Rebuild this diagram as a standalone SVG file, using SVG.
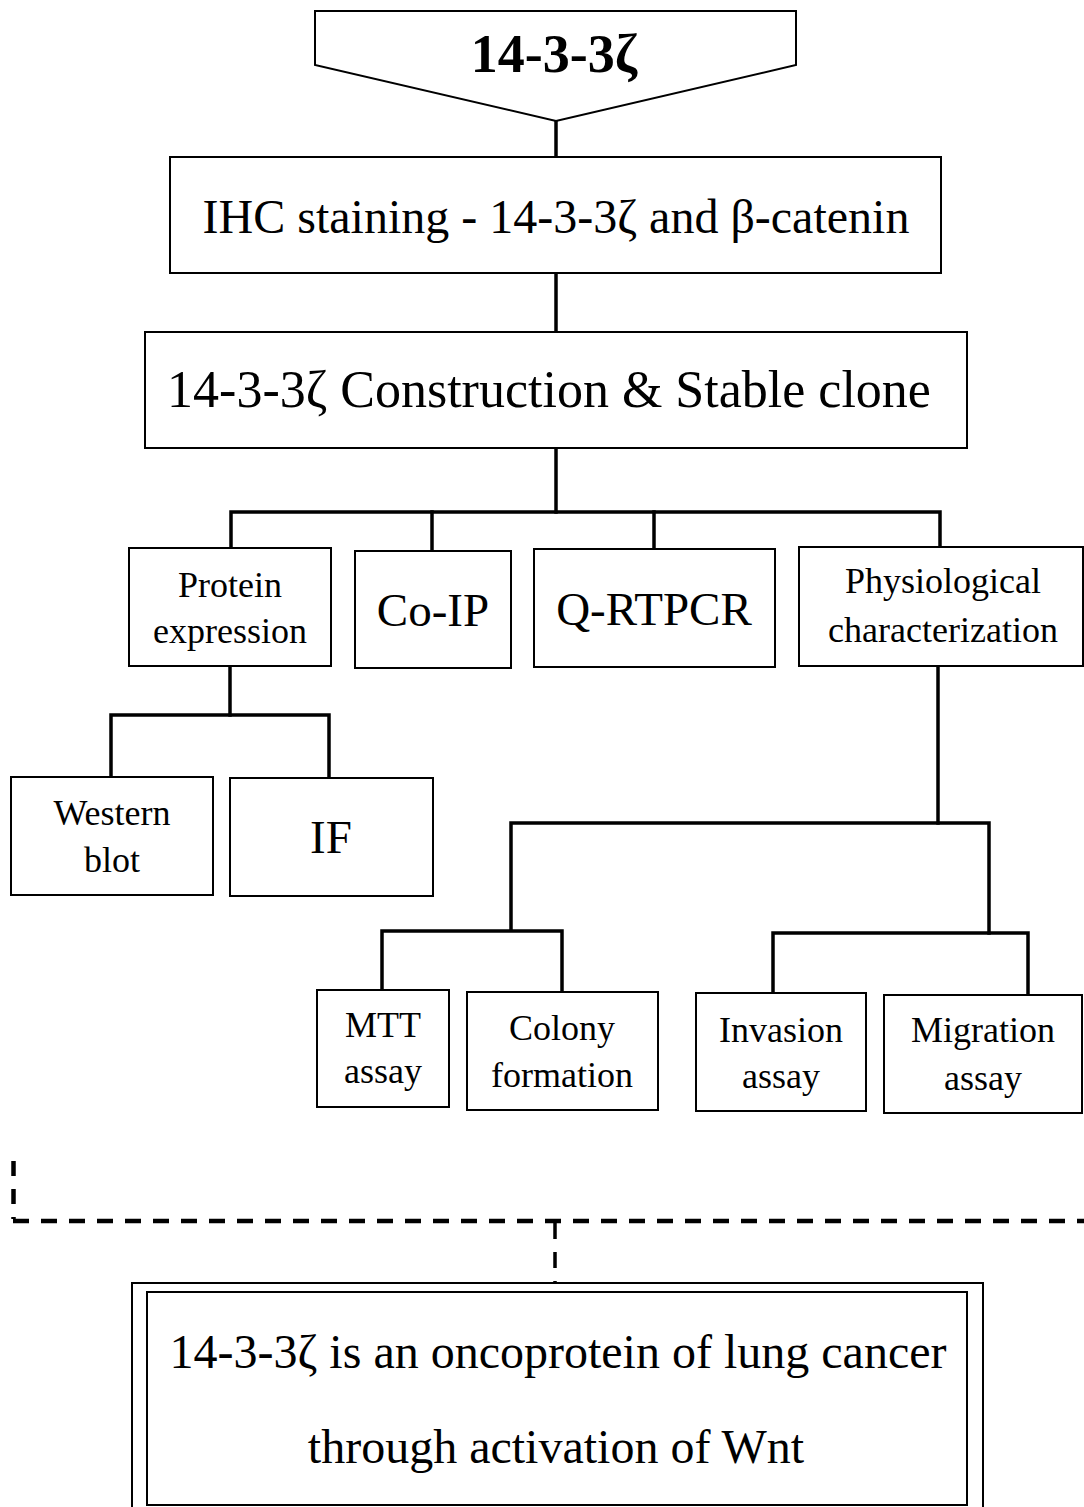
<svg xmlns="http://www.w3.org/2000/svg" width="1084" height="1507" viewBox="0 0 1084 1507">
<style>
.box{fill:#fff;stroke:#000;stroke-width:2}
.ln{fill:none;stroke:#000;stroke-width:3.5;stroke-linecap:square}
.dash{fill:none;stroke:#000;stroke-width:4.5}
text{font-family:"Liberation Serif","Times New Roman",serif;fill:#000;text-anchor:middle}
.t36{font-size:36px}
.t47{font-size:47px}
.t48{font-size:48px}
</style>
<rect width="1084" height="1507" fill="#fff"/>
<g id="connectors">
<path class="ln" d="M556,121 V157"/>
<path class="ln" d="M556,273 V332"/>
<path class="ln" d="M556,448 V512"/>
<path class="ln" d="M231,548 V512 H940 V547"/>
<path class="ln" d="M432,512 V550"/>
<path class="ln" d="M654,512 V549"/>
<path class="ln" d="M230,666 V715"/>
<path class="ln" d="M111,776 V715 H329 V777"/>
<path class="ln" d="M938,666 V823"/>
<path class="ln" d="M511,930 V823 H989 V933"/>
<path class="ln" d="M382,989 V931 H562 V991"/>
<path class="ln" d="M773,993 V933 H1028 V994"/>
<path class="dash" d="M13.5,1161 V1219" stroke-dasharray="15 13"/>
<path class="dash" d="M13,1221 H1084" stroke-dasharray="16 12"/>
<path class="dash" style="stroke-width:3.5" d="M555,1223 V1283" stroke-dasharray="16 13"/>
</g>
<g id="n-title">
<path d="M315,11 L796,11 L796,65 L556,121 L315,65 Z" fill="#fff" stroke="#000" stroke-width="2"/>
<text x="554" y="72" style="font-size:54px;font-weight:bold">14-3-3ζ</text>
</g>
<g id="n-ihc">
<rect class="box" x="170" y="157" width="771" height="116"/>
<text class="t48" x="556" y="233">IHC staining - 14-3-3ζ and β-catenin</text>
</g>
<g id="n-construction">
<rect class="box" x="145" y="332" width="822" height="116"/>
<text x="549" y="407" style="font-size:52px">14-3-3ζ Construction &amp; Stable clone</text>
</g>
<g id="n-protein">
<rect class="box" x="129" y="548" width="202" height="118"/>
<text class="t36" x="230" y="597">Protein</text>
<text class="t36" x="230" y="643">expression</text>
</g>
<g id="n-coip">
<rect class="box" x="355" y="551" width="156" height="117"/>
<text class="t47" x="433" y="626">Co-IP</text>
</g>
<g id="n-qrtpcr">
<rect class="box" x="534" y="549" width="241" height="118"/>
<text class="t47" x="654" y="625">Q-RTPCR</text>
</g>
<g id="n-phys">
<rect class="box" x="799" y="547" width="284" height="119"/>
<text class="t36" x="943" y="593">Physiological</text>
<text class="t36" x="943" y="642">characterization</text>
</g>
<g id="n-western">
<rect class="box" x="11" y="777" width="202" height="118"/>
<text class="t36" x="112" y="825">Western</text>
<text class="t36" x="112" y="872">blot</text>
</g>
<g id="n-if">
<rect class="box" x="230" y="778" width="203" height="118"/>
<text class="t47" x="331" y="853">IF</text>
</g>
<g id="n-mtt">
<rect class="box" x="317" y="990" width="132" height="117"/>
<text class="t36" x="383" y="1037">MTT</text>
<text class="t36" x="383" y="1083">assay</text>
</g>
<g id="n-colony">
<rect class="box" x="467" y="992" width="191" height="118"/>
<text class="t36" x="562" y="1040">Colony</text>
<text class="t36" x="562" y="1087">formation</text>
</g>
<g id="n-invasion">
<rect class="box" x="696" y="993" width="170" height="118"/>
<text class="t36" x="781" y="1042">Invasion</text>
<text class="t36" x="781" y="1088">assay</text>
</g>
<g id="n-migration">
<rect class="box" x="884" y="995" width="198" height="118"/>
<text class="t36" x="983" y="1042">Migration</text>
<text class="t36" x="983" y="1090">assay</text>
</g>
<g id="n-conclusion">
<rect class="box" x="132" y="1283" width="851" height="240"/>
<rect class="box" x="147" y="1292" width="820" height="213"/>
<text class="t48" x="558" y="1368">14-3-3ζ is an oncoprotein of lung cancer</text>
<text class="t48" x="556" y="1463">through activation of Wnt</text>
</g>
</svg>
